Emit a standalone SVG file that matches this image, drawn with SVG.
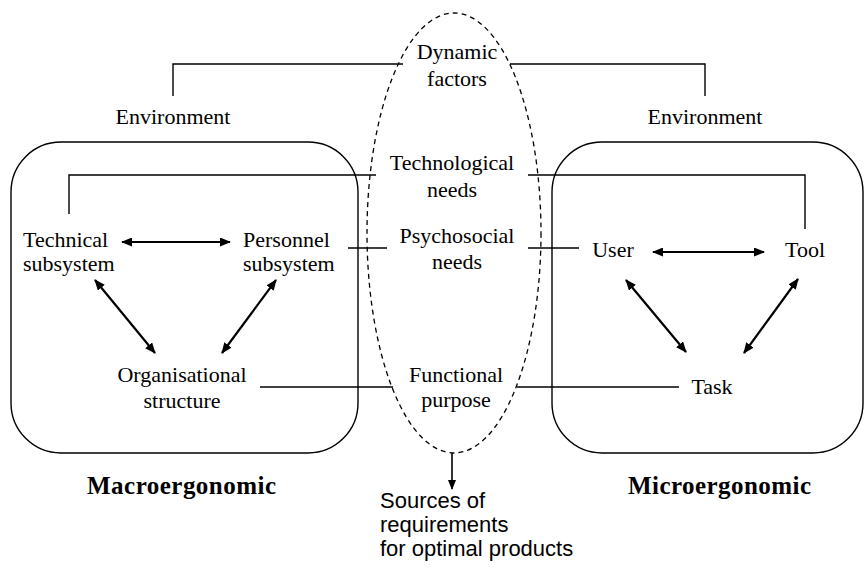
<svg xmlns="http://www.w3.org/2000/svg" width="864" height="568" viewBox="0 0 864 568">
<defs>
<style>
.t{font-family:"Liberation Serif","Times New Roman","DejaVu Serif",serif;font-size:22px;fill:#000}
.b{font-family:"Liberation Serif","Times New Roman","DejaVu Serif",serif;font-size:25px;font-weight:bold;fill:#000}
.s{font-family:"Liberation Sans",Arial,sans-serif;font-size:22px;fill:#000}
.ln{stroke:#000;stroke-width:1.4;fill:none}
.ar{stroke:#000;stroke-width:2.2;fill:none;marker-start:url(#ah);marker-end:url(#ah)}
.box{stroke:#000;stroke-width:1.4;fill:none}
</style>
<marker id="ah" viewBox="0 0 11 9" refX="10" refY="4.5" markerWidth="11" markerHeight="9" markerUnits="userSpaceOnUse" orient="auto-start-reverse">
<path d="M0,0 L11,4.5 L0,9 z" fill="#000"/>
</marker>
<marker id="ah1" viewBox="0 0 10 8" refX="9" refY="4" markerWidth="10" markerHeight="8" markerUnits="userSpaceOnUse" orient="auto">
<path d="M0,0 L10,4 L0,8 z" fill="#000"/>
</marker>
</defs>
<rect width="864" height="568" fill="#fff"/>

<g id="macro-box"><rect class="box" x="11" y="142" width="347" height="311" rx="50" ry="50"/></g>
<g id="micro-box"><rect class="box" x="552" y="142" width="311" height="311" rx="50" ry="50"/></g>
<g id="sources-ellipse"><ellipse cx="454" cy="233" rx="87" ry="220" fill="none" stroke="#000" stroke-width="1.3" stroke-dasharray="5,4"/></g>

<g id="connectors">
<polyline class="ln" points="173,96 173,64 403,64"/>
<polyline class="ln" points="510,64 705,64 705,96"/>
<polyline class="ln" points="69,214 69,175 376,175"/>
<polyline class="ln" points="528,175 805,175 805,229"/>
<line class="ln" x1="348" y1="248" x2="387" y2="248"/>
<line class="ln" x1="528" y1="248" x2="579" y2="248"/>
<line class="ln" x1="260" y1="387" x2="393" y2="387"/>
<line class="ln" x1="517" y1="387" x2="679" y2="387"/>
<line class="ar" x1="122" y1="242" x2="230" y2="242"/>
<line class="ar" x1="95" y1="280" x2="155" y2="353"/>
<line class="ar" x1="276" y1="280" x2="222" y2="353"/>
<line class="ar" x1="653" y1="252" x2="764" y2="252"/>
<line class="ar" x1="626" y1="280" x2="686" y2="352"/>
<line class="ar" x1="798" y1="279" x2="744" y2="353"/>
<line stroke="#000" stroke-width="1.6" x1="452" y1="453" x2="452" y2="489" marker-end="url(#ah1)"/>
</g>

<g id="dynamic-factors"><text class="t" text-anchor="middle" x="457" y="59">Dynamic</text><text class="t" text-anchor="middle" x="457" y="86">factors</text></g>
<g id="env-left"><text class="t" text-anchor="middle" x="173" y="124">Environment</text></g>
<g id="env-right"><text class="t" text-anchor="middle" x="705" y="124">Environment</text></g>
<g id="tech-needs"><text class="t" text-anchor="middle" x="452" y="170">Technological</text><text class="t" text-anchor="middle" x="452" y="197">needs</text></g>
<g id="psycho-needs"><text class="t" text-anchor="middle" x="457" y="243">Psychosocial</text><text class="t" text-anchor="middle" x="457" y="269">needs</text></g>
<g id="functional-purpose"><text class="t" text-anchor="middle" x="456" y="382">Functional</text><text class="t" text-anchor="middle" x="456" y="407">purpose</text></g>
<g id="technical"><text class="t" x="23" y="247">Technical</text><text class="t" x="23" y="271">subsystem</text></g>
<g id="personnel"><text class="t" x="243" y="247">Personnel</text><text class="t" x="243" y="271">subsystem</text></g>
<g id="organisational"><text class="t" text-anchor="middle" x="182" y="382">Organisational</text><text class="t" text-anchor="middle" x="182" y="408">structure</text></g>
<g id="user"><text class="t" text-anchor="middle" x="613" y="257">User</text></g>
<g id="tool"><text class="t" text-anchor="middle" x="805" y="257">Tool</text></g>
<g id="task"><text class="t" text-anchor="middle" x="712" y="394">Task</text></g>
<g id="macro-label"><text class="b" x="87" y="494" textLength="189">Macroergonomic</text></g>
<g id="micro-label"><text class="b" x="628" y="494" textLength="183">Microergonomic</text></g>
<g id="sources"><text class="s" x="380" y="508">Sources of</text><text class="s" x="380" y="532">requirements</text><text class="s" x="380" y="556">for optimal products</text></g>
</svg>
